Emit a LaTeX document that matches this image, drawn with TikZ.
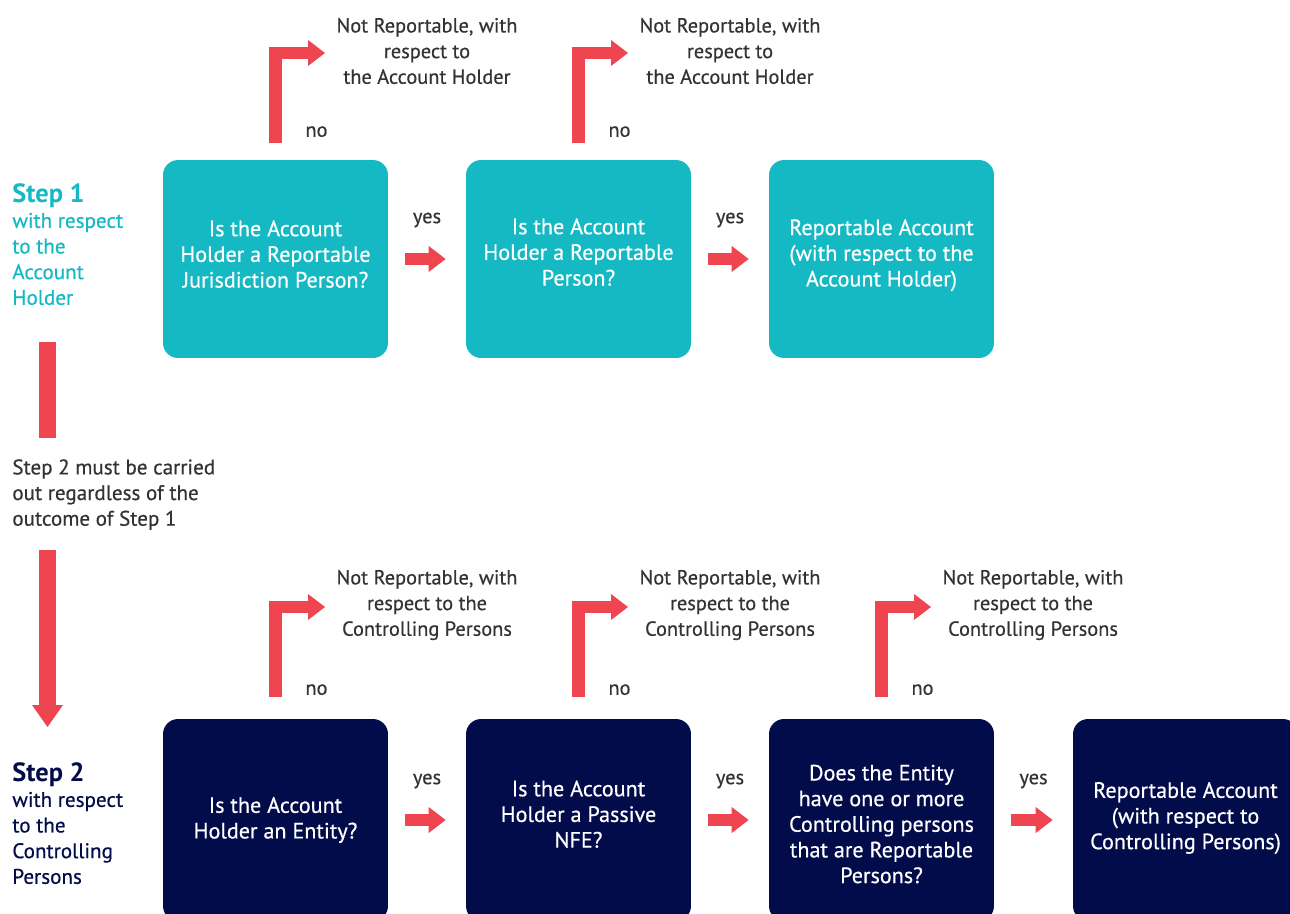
\documentclass[tikz,border=0pt]{standalone}
\usepackage{fontspec}
\setmainfont{PT Sans}
\newfontfamily\medfont{PT Sans}[FakeBold=0.5]
\usetikzlibrary{arrows.meta,calc}
\definecolor{crsteal}{HTML}{15B9C4}
\definecolor{crsnavy}{HTML}{020C4A}
\definecolor{crsred}{HTML}{EF4550}
\definecolor{crsgray}{HTML}{333333}
\newcommand{\lift}[1]{\rule[-#1]{0pt}{0pt}}
\tikzset{
  qbox/.style={rounded corners=0.3cm, minimum width=4.5cm, minimum height=3.96cm,
    inner sep=0pt, align=center, text=white, font=\medfont\fontsize{12.6}{14.6}\selectfont},
  qbox2/.style={qbox, minimum height=4.04cm},
  txt/.style={inner sep=0pt, text=crsgray, font=\medfont\fontsize{11.6}{14.6}\selectfont},
  yeslabel/.style={txt, midway, yshift=0.78cm},
  yesarrow/.style={crsred, line width=0.24cm,
    -{Triangle[width=0.52cm,length=0.34cm,line width=0pt]},
    shorten <=0.34cm, shorten >=0.4cm},
  noarrow/.style={crsred, line width=0.25cm, line join=miter,
    -{Triangle[width=0.52cm,length=0.34cm,line width=0pt]}},
  steplabel/.style={inner sep=0pt, anchor=north west, align=left,
    font=\medfont\fontsize{12}{14.6}\selectfont}
}
\begin{document}
\begin{tikzpicture}[x=0.02cm,y=-0.02cm]
  \useasboundingbox (0,0) rectangle (1290,913);
  \clip (0,0) rectangle (1290,913);

  % step 1
  \node[steplabel, text=crsteal] (step1) at (12,183)
    {{\normalfont\fontsize{15}{16}\bfseries Step 1}\\with respect\\to the\\Account\\Holder};
  \node[qbox, fill=crsteal] (jur) at (275.5,259) {Is the Account\\Holder a Reportable\\Jurisdiction Person?\lift{5.7pt}};
  \node[qbox, fill=crsteal] (rep) at (578.5,259) {Is the Account\\Holder a Reportable\\Person?\lift{8pt}};
  \node[qbox, fill=crsteal] (acc1) at (881.5,259) {Reportable Account\\(with respect to the\\Account Holder)\lift{7pt}};
  \draw[yesarrow] (jur.east) -- node[yeslabel] {yes} (rep.west);
  \draw[yesarrow] (rep.east) -- node[yeslabel] {yes} (acc1.west);

  \coordinate (tipjur) at (325,53);
  \coordinate (tiprep) at (628,53);
  \draw[noarrow] ($(jur.north)+(0,-17)$) |- (tipjur);
  \draw[noarrow] ($(rep.north)+(0,-17)$) |- (tiprep);
  \node[txt] at ($(jur.north)+(41,-28)$) {no};
  \node[txt] at ($(rep.north)+(41,-28)$) {no};
  \node[txt, align=center] (nrjur) at ($(tipjur)+(102,-2)$) {Not Reportable, with\\respect to\\the Account Holder};
  \node[txt, align=center] (nrrep) at ($(tiprep)+(102,-2)$) {Not Reportable, with\\respect to\\the Account Holder};

  % between the steps
  \coordinate (bartop) at (47.5,342);
  \coordinate (barend) at (47.5,438);
  \fill[crsred] ($(bartop)+(-8.5,0)$) rectangle ($(barend)+(8.5,0)$);
  \node[steplabel, text=crsgray] (note) at (12,459)
    {Step 2 must be carried\\out regardless of the\\outcome of Step 1};
  \coordinate (arrtop) at (47.5,550);
  \coordinate (arrtip) at (47.5,727);
  \draw[crsred, line width=0.33cm,
    -{Triangle[width=0.62cm,length=0.44cm,line width=0pt]}] (arrtop) -- (arrtip);

  % step 2
  \node[steplabel, text=crsnavy] (step2) at (12,762)
    {{\normalfont\fontsize{15}{16}\bfseries Step 2}\\with respect\\to the\\Controlling\\Persons};
  \node[qbox2, fill=crsnavy] (ent) at (275.5,820) {Is the Account\\Holder an Entity?};
  \node[qbox2, fill=crsnavy] (nfe) at (578.5,820) {Is the Account\\Holder a Passive\\NFE?\lift{6.8pt}};
  \node[qbox2, fill=crsnavy] (cp) at (881.5,820) {\rule{0pt}{13.5pt}Does the Entity\\have one or more\\Controlling persons\\that are Reportable\\Persons?};
  \node[qbox2, fill=crsnavy] (acc2) at (1185.5,820) {Reportable Account\\(with respect to\\Controlling Persons)\lift{5pt}};
  \draw[yesarrow] (ent.east) -- node[yeslabel] {yes} (nfe.west);
  \draw[yesarrow] (nfe.east) -- node[yeslabel] {yes} (cp.west);
  \draw[yesarrow] (cp.east) -- node[yeslabel] {yes} (acc2.west);

  \coordinate (tipent) at (325,607);
  \coordinate (tipnfe) at (628,607);
  \coordinate (tipcp) at (931,607);
  \draw[noarrow] ($(ent.north)+(0,-22)$) |- (tipent);
  \draw[noarrow] ($(nfe.north)+(0,-22)$) |- (tipnfe);
  \draw[noarrow] ($(cp.north)+(0,-22)$) |- (tipcp);
  \node[txt] at ($(ent.north)+(41,-29)$) {no};
  \node[txt] at ($(nfe.north)+(41,-29)$) {no};
  \node[txt] at ($(cp.north)+(41,-29)$) {no};
  \node[txt, align=center] (nrent) at ($(tipent)+(102,-2)$) {Not Reportable, with\\respect to the\\Controlling Persons};
  \node[txt, align=center] (nrnfe) at ($(tipnfe)+(102,-2)$) {Not Reportable, with\\respect to the\\Controlling Persons};
  \node[txt, align=center] (nrcp) at ($(tipcp)+(102,-2)$) {Not Reportable, with\\respect to the\\Controlling Persons};
\end{tikzpicture}
\end{document}
